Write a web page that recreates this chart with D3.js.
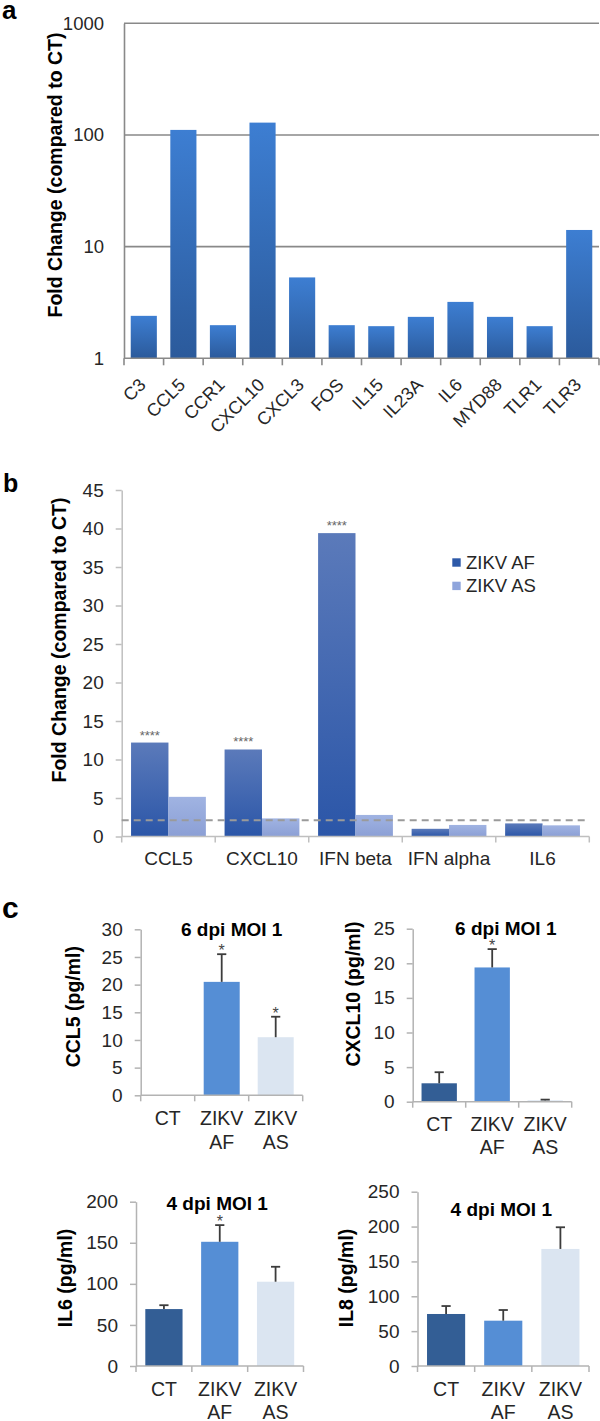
<!DOCTYPE html>
<html><head><meta charset="utf-8">
<script src="https://cdn.jsdelivr.net/npm/d3@7"></script>
<style>
body{margin:0;background:#fff}
svg{display:block}
text{font-family:"Liberation Sans",Arial,sans-serif}
</style>
</head><body>
<svg id="chart" width="600" height="1421"></svg>
<script>
// ---------- Panel a data ----------
const genesA = ["C3","CCL5","CCR1","CXCL10","CXCL3","FOS","IL15","IL23A","IL6","MYD88","TLR1","TLR3"];
const foldA = [2.4, 111, 1.98, 129, 5.3, 1.98, 1.94, 2.35, 3.2, 2.35, 1.94, 14.1];
const ticksA = [1, 10, 100, 1000];

// ---------- Panel b data ----------
const genesB = ["CCL5","CXCL10","IFN beta","IFN alpha","IL6"];
const seriesB = ["ZIKV AF","ZIKV AS"];
const afB = [12.2, 11.3, 39.4, 1.0, 1.7];
const asB = [5.15, 2.35, 2.8, 1.5, 1.45];
const sigB = ["****","****","****","",""];
const ticksB = [0,5,10,15,20,25,30,35,40,45];
const thresholdB = 2.1;

// ---------- Panel c data ----------
const groupsC = ["CT","ZIKV AF","ZIKV AS"];
const ccl5Mean = [0, 20.5, 10.5];
const ccl5Err = [0, 5.0, 3.7];
const ccl5Sig = ["","*","*"];
const cxcl10Mean = [2.66, 19.4, 0.2];
const cxcl10Err = [1.6, 2.65, 0.1];
const cxcl10Sig = ["","*",""];
const il6Mean = [69.3, 151.2, 102.6];
const il6Err = [4.7, 20.3, 18.2];
const il6Sig = ["","*",""];
const il8Mean = [74.6, 65, 167.9];
const il8Err = [11.4, 15.3, 31.1];
const il8Sig = ["","",""];
const ticksCCL5 = [0,5,10,15,20,25,30];
const ticksCXCL10 = [0,5,10,15,20,25];
const ticksIL6 = [0,50,100,150,200];
const ticksIL8 = [0,50,100,150,200,250];

const svg = d3.select("#chart");
const defs = svg.append("defs");
function grad(id, top, bottom){
  const g = defs.append("linearGradient").attr("id", id)
    .attr("x1",0).attr("y1",0).attr("x2",0).attr("y2",1);
  g.append("stop").attr("offset","0%").attr("stop-color",top);
  g.append("stop").attr("offset","100%").attr("stop-color",bottom);
}
grad("gA","#3d7ed2","#2b5a9b");
grad("gAF","#5b7aba","#2b56a8");
grad("gAS","#a0b3e2","#8b9fd5");

const txtCol = "#262626";

function boundaryTicks(g, scale, y, len, color, width){
  const step = scale.step();
  const pad = scale.paddingOuter() * step;
  const r = scale.range();
  const xs = scale.domain().map(d => scale(d) - (step - scale.bandwidth())/2);
  xs.push(r[1]);
  g.selectAll(null).data(xs).join("line")
    .attr("x1", d => d).attr("x2", d => d)
    .attr("y1", y).attr("y2", y + len)
    .attr("stroke", color).attr("stroke-width", width);
}

// ================= Panel a =================
{
  const g = svg.append("g");
  g.append("text").attr("x",2).attr("y",19).attr("font-size",26).attr("font-weight","bold").attr("fill","#000").text("a");
  const x = d3.scaleBand().domain(genesA).range([124,599]).paddingInner(0.34).paddingOuter(0.17);
  const y = d3.scaleLog().domain([1,1000]).range([358.3,23.3]);
  // gridlines
  g.selectAll(null).data(ticksA.filter(t => t > 1)).join("line")
    .attr("x1",124).attr("x2",599).attr("y1",d=>y(d)).attr("y2",d=>y(d))
    .attr("stroke","#898989").attr("stroke-width",1.6);
  const yAxis = g.append("g").attr("transform","translate(124,0)")
    .call(d3.axisLeft(y).tickValues(ticksA).tickFormat(d3.format("d")).tickSize(0).tickPadding(20));
  yAxis.select(".domain").attr("stroke","#898989").attr("stroke-width",1.6);
  yAxis.selectAll("text").attr("font-size",18.5).attr("fill",txtCol).style("font-family",'"Liberation Sans",Arial,sans-serif');
  // bars
  g.selectAll(null).data(genesA).join("rect")
    .attr("x", d => x(d)).attr("width", x.bandwidth())
    .attr("y", (d,i) => y(foldA[i])).attr("height", (d,i) => y(1) - y(foldA[i]))
    .attr("fill","url(#gA)");
  // x axis
  g.append("line").attr("x1",124).attr("x2",599).attr("y1",y(1)).attr("y2",y(1))
    .attr("stroke","#898989").attr("stroke-width",1.6);
  boundaryTicks(g, x, y(1), 7, "#898989", 1.6);
  g.selectAll(null).data(genesA).join("text")
    .attr("transform", d => `translate(${x(d)+x.bandwidth()/2+3},${386}) rotate(-45)`)
    .attr("text-anchor","end").attr("font-size",18).attr("fill",txtCol).text(d=>d);
  g.append("text").attr("transform","translate(55,175) rotate(-90)")
    .attr("text-anchor","middle").attr("dy","0.35em").attr("font-size",19.5).attr("font-weight","bold").attr("fill","#000")
    .text("Fold Change (compared to CT)");
}

// ================= Panel b =================
{
  const g = svg.append("g");
  g.append("text").attr("x",3).attr("y",492).attr("font-size",25).attr("font-weight","bold").attr("fill","#000").text("b");
  const x0 = d3.scaleBand().domain(genesB).range([121.7,589.3]).paddingInner(0.2).paddingOuter(0.1);
  const x1 = d3.scaleBand().domain(seriesB).range([0, x0.bandwidth()]);
  const y = d3.scaleLinear().domain([0,45]).range([836.5,490]);
  const yAxis = g.append("g").attr("transform","translate(121.7,0)")
    .call(d3.axisLeft(y).tickValues(ticksB).tickSize(6).tickSizeOuter(0).tickPadding(12));
  yAxis.select(".domain").attr("stroke","#bfbfbf").attr("stroke-width",1.5);
  yAxis.selectAll(".tick line").attr("stroke","#bfbfbf").attr("stroke-width",1.5);
  yAxis.selectAll("text").attr("font-size",19).attr("fill",txtCol).style("font-family",'"Liberation Sans",Arial,sans-serif');
  const data = genesB.map((d,i) => ({gene:d, vals:[afB[i], asB[i]], sig:sigB[i]}));
  const grp = g.selectAll(null).data(data).join("g").attr("transform", d => `translate(${x0(d.gene)},0)`);
  grp.selectAll("rect").data(d => d.vals.map((v,j)=>({s:seriesB[j], v}))).join("rect")
    .attr("x", d => x1(d.s)).attr("width", x1.bandwidth())
    .attr("y", d => y(d.v)).attr("height", d => y(0) - y(d.v))
    .attr("fill", d => d.s === "ZIKV AF" ? "url(#gAF)" : "url(#gAS)");
  grp.append("text").attr("x", x1("ZIKV AF") + x1.bandwidth()/2).attr("y", d => y(d.vals[0]) - 3)
    .attr("text-anchor","middle").attr("font-size",13).attr("fill","#666").text(d => d.sig);
  // dashed threshold line
  g.append("line").attr("x1",121.7).attr("x2",589.3).attr("y1",y(thresholdB)).attr("y2",y(thresholdB))
    .attr("stroke","#9a9a9a").attr("stroke-width",2).attr("stroke-dasharray","7,5");
  // x axis
  g.append("line").attr("x1",121.7).attr("x2",589.3).attr("y1",y(0)).attr("y2",y(0))
    .attr("stroke","#bfbfbf").attr("stroke-width",1.5);
  boundaryTicks(g, x0, y(0), 6, "#bfbfbf", 1.5);
  g.selectAll(null).data(genesB).join("text")
    .attr("x", d => x0(d) + x0.bandwidth()/2).attr("y", 865)
    .attr("text-anchor","middle").attr("font-size",19).attr("fill",txtCol).text(d=>d);
  g.append("text").attr("transform","translate(59,640) rotate(-90)")
    .attr("text-anchor","middle").attr("dy","0.35em").attr("font-size",19.5).attr("font-weight","bold").attr("fill","#000")
    .text("Fold Change (compared to CT)");
  // legend
  const leg = g.append("g");
  const legColors = ["#2d59a8","#8fa5dc"];
  seriesB.forEach((s,i) => {
    const yy = [558.3, 581.7][i];
    leg.append("rect").attr("x",452.3).attr("y",yy).attr("width",8.4).attr("height",8.4).attr("fill",legColors[i]);
    leg.append("text").attr("x",466).attr("y",yy+10.5).attr("font-size",18.5).attr("fill",txtCol).text(s);
  });
}

// ================= Panel c =================
svg.append("text").attr("x",2).attr("y",918).attr("font-size",30).attr("font-weight","bold").attr("fill","#000").text("c");
const colorsC = ["#335e95","#558ed5","#dbe5f1"];

function panelC(o){
  const g = svg.append("g");
  const x = d3.scaleBand().domain(groupsC).range(o.xr).paddingInner(0.333).paddingOuter(0.1667);
  const y = d3.scaleLinear().domain([0, o.ticks[o.ticks.length-1]]).range(o.yr);
  const yAxis = g.append("g").attr("transform",`translate(${o.xr[0]},0)`)
    .call(d3.axisLeft(y).tickValues(o.ticks).tickSize(6).tickSizeOuter(0).tickPadding(12));
  yAxis.select(".domain").attr("stroke","#b3b3b3").attr("stroke-width",1.5);
  yAxis.selectAll(".tick line").attr("stroke","#b3b3b3").attr("stroke-width",1.5);
  yAxis.selectAll("text").attr("font-size",19).attr("fill",txtCol).style("font-family",'"Liberation Sans",Arial,sans-serif');
  // bars
  g.selectAll(null).data(groupsC).join("rect")
    .attr("x", d => x(d)).attr("width", x.bandwidth())
    .attr("y", (d,i) => y(o.mean[i])).attr("height", (d,i) => y(0) - y(o.mean[i]))
    .attr("fill", (d,i) => colorsC[i]);
  // error bars
  groupsC.forEach((d,i) => {
    if (o.err[i] <= 0) return;
    const cx = x(d) + x.bandwidth()/2;
    const top = y(o.mean[i] + o.err[i]);
    g.append("line").attr("x1",cx).attr("x2",cx).attr("y1",y(o.mean[i])).attr("y2",top)
      .attr("stroke","#3c3c3c").attr("stroke-width",1.8);
    g.append("line").attr("x1",cx-4.6).attr("x2",cx+4.6).attr("y1",top).attr("y2",top)
      .attr("stroke","#3c3c3c").attr("stroke-width",1.8);
    if (o.sig[i]) {
      g.append("text").attr("x",cx).attr("y",top+2).attr("text-anchor","middle")
        .attr("font-size",16).attr("fill","#444").text(o.sig[i]);
    }
  });
  // x axis
  g.append("line").attr("x1",o.xr[0]).attr("x2",o.xr[1]).attr("y1",y(0)).attr("y2",y(0))
    .attr("stroke","#b3b3b3").attr("stroke-width",1.5);
  boundaryTicks(g, x, y(0), 6, "#b3b3b3", 1.5);
  groupsC.forEach(d => {
    const parts = d.split(" ");
    const t = g.append("text").attr("text-anchor","middle").attr("font-size",19.5).attr("fill",txtCol);
    parts.forEach((p,k) => {
      t.append("tspan").attr("x", x(d) + x.bandwidth()/2).attr("y", o.lab[k]).text(p);
    });
  });
  g.append("text").attr("x",o.title[0]).attr("y",o.title[1]).attr("text-anchor","middle")
    .attr("font-size",19).attr("font-weight","bold").attr("fill","#000").text(o.titleText);
  g.append("text").attr("transform",`translate(${o.yt[0]},${o.yt[1]}) rotate(-90)`)
    .attr("text-anchor","middle").attr("dy","0.35em").attr("font-size",19.5).attr("font-weight","bold").attr("fill","#000")
    .text(o.ytText);
}

panelC({xr:[140.7,302.7], yr:[1095.3,929.3], ticks:ticksCCL5, mean:ccl5Mean, err:ccl5Err, sig:ccl5Sig,
  lab:[1125,1149], title:[231.7,936], titleText:"6 dpi MOI 1", yt:[72.7,1006.7], ytText:"CCL5 (pg/ml)"});
panelC({xr:[412.7,571.7], yr:[1101.7,928.7], ticks:ticksCXCL10, mean:cxcl10Mean, err:cxcl10Err, sig:cxcl10Sig,
  lab:[1131,1154], title:[505.8,935], titleText:"6 dpi MOI 1", yt:[353,994], ytText:"CXCL10 (pg/ml)"});
panelC({xr:[136,303.5], yr:[1366,1201.7], ticks:ticksIL6, mean:il6Mean, err:il6Err, sig:il6Sig,
  lab:[1395.5,1418.5], title:[217.2,1209.5], titleText:"4 dpi MOI 1", yt:[64.7,1278], ytText:"IL6 (pg/ml)"});
panelC({xr:[417.5,589], yr:[1366,1191.7], ticks:ticksIL8, mean:il8Mean, err:il8Err, sig:il8Sig,
  lab:[1396,1418.5], title:[501.3,1215.5], titleText:"4 dpi MOI 1", yt:[345.8,1278], ytText:"IL8 (pg/ml)"});
</script>
</body></html>
